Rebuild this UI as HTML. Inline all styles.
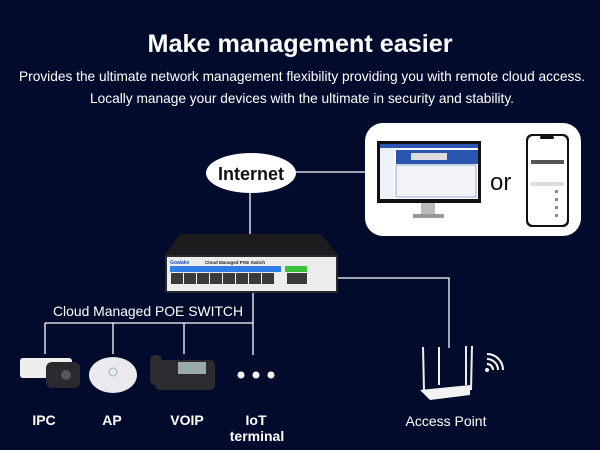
<!DOCTYPE html>
<html><head><meta charset="utf-8"><style>
html,body{margin:0;padding:0;background:#030b2c;}
svg{display:block;font-family:"Liberation Sans",sans-serif;}
</style></head><body>
<svg width="600" height="450" viewBox="0 0 600 450" xmlns="http://www.w3.org/2000/svg">
<rect width="600" height="450" fill="#030b2c"/>
<text x="300" y="52" text-anchor="middle" fill="#fff" font-size="25" font-weight="bold" textLength="305" lengthAdjust="spacingAndGlyphs">Make management easier</text>
<text x="302" y="81" text-anchor="middle" fill="#fff" font-size="14" textLength="566" lengthAdjust="spacingAndGlyphs">Provides the ultimate network management flexibility providing you with remote cloud access.</text>
<text x="302" y="103" text-anchor="middle" fill="#fff" font-size="14" textLength="424" lengthAdjust="spacingAndGlyphs">Locally manage your devices with the ultimate in security and stability.</text>

<g stroke="#fff" stroke-width="1.3" fill="none">
<line x1="295" y1="172" x2="366" y2="172"/>
<line x1="250" y1="193" x2="250" y2="250"/>
<polyline points="338,278 449,278 449,348"/>
<line x1="253" y1="293" x2="253" y2="355"/>
<line x1="45" y1="323" x2="253" y2="323"/>
<line x1="45" y1="323" x2="45" y2="354"/>
<line x1="113" y1="323" x2="113" y2="354"/>
<line x1="184" y1="323" x2="184" y2="354"/>
</g>

<ellipse cx="251" cy="173" rx="45" ry="20" fill="#fff"/>
<text x="251" y="180" text-anchor="middle" font-size="18" font-weight="bold" fill="#111">Internet</text>

<rect x="365" y="123" width="216" height="113" rx="18" fill="#fff"/>
<rect x="377" y="141" width="104" height="62" fill="#111"/>
<rect x="380" y="144" width="98" height="55" fill="#fff"/>
<rect x="380" y="144" width="98" height="4" fill="#2a56b0"/>
<rect x="396" y="150" width="82" height="14" fill="#2a56b0"/>
<rect x="411" y="153" width="36" height="7" fill="#ddd"/>
<rect x="396" y="165" width="80" height="32" fill="#f2f4fa" stroke="#5578c6" stroke-width="0.6"/>
<rect x="380" y="148" width="14" height="51" fill="#eef1f8"/>
<rect x="421" y="203" width="14" height="12" fill="#bbb"/>
<rect x="413" y="214" width="31" height="4" fill="#999"/>
<rect x="526" y="134" width="43" height="93" rx="6" fill="#111"/>
<rect x="528" y="136" width="39" height="89" rx="5" fill="#fff"/>
<rect x="540" y="136" width="14" height="3" rx="1.5" fill="#111"/>
<rect x="531" y="160" width="33" height="4" fill="#555"/>
<rect x="531" y="182" width="33" height="4" fill="#ddd"/>
<g fill="#888"><rect x="555" y="190" width="3" height="3"/><rect x="555" y="198" width="3" height="3"/><rect x="555" y="206" width="3" height="3"/><rect x="555" y="214" width="3" height="3"/></g>
<text x="490" y="190" font-size="24" fill="#111">or</text>

<!-- switch -->
<polygon points="180,234 321,234 338,255 165,255" fill="#1c1c1f"/>
<rect x="165" y="255" width="173" height="38" fill="#2a2a2e"/>
<rect x="167" y="257" width="169" height="34" fill="#ececec"/>
<text x="170" y="264" font-size="5" font-weight="bold" fill="#1f53b8">Goalake</text>
<text x="205" y="264" font-size="4.5" font-weight="bold" fill="#222">Cloud Managed POE Switch</text>
<rect x="170" y="266" width="111" height="6" fill="#2f7de6"/>
<rect x="285" y="266" width="22" height="6" fill="#38c43a"/>
<g fill="#3a3a3a">
<rect x="171" y="273" width="12" height="11"/><rect x="184" y="273" width="12" height="11"/><rect x="197" y="273" width="12" height="11"/><rect x="210" y="273" width="12" height="11"/><rect x="223" y="273" width="12" height="11"/><rect x="236" y="273" width="12" height="11"/><rect x="249" y="273" width="12" height="11"/><rect x="262" y="273" width="12" height="11"/>
<rect x="287" y="273" width="10" height="11"/><rect x="297" y="273" width="10" height="11"/>
</g>

<text x="148" y="316" text-anchor="middle" font-size="14" fill="#fff" textLength="190" lengthAdjust="spacingAndGlyphs">Cloud Managed POE SWITCH</text>

<!-- devices -->
<rect x="20" y="358" width="52" height="20" rx="3" fill="#eee"/>
<rect x="46" y="362" width="34" height="26" rx="6" fill="#2a2a2e"/>
<circle cx="66" cy="375" r="5" fill="#556"/>
<ellipse cx="113" cy="375" rx="24" ry="18" fill="#e9e9ee"/>
<circle cx="113" cy="372" r="4" fill="none" stroke="#8ab" stroke-width="0.8"/>
<rect x="155" y="360" width="60" height="30" rx="5" fill="#2b2b30"/>
<rect x="178" y="362" width="28" height="12" fill="#9aa"/>
<rect x="150" y="355" width="12" height="30" rx="5" fill="#2b2b30"/>
<g fill="#fff"><circle cx="241" cy="375" r="3.5"/><circle cx="256" cy="375" r="3.5"/><circle cx="271" cy="375" r="3.5"/></g>
<g stroke="#eee" stroke-width="2"><line x1="423" y1="347" x2="424" y2="390"/><line x1="439" y1="347" x2="439" y2="385"/><line x1="466" y1="346" x2="466" y2="385"/><line x1="472" y1="346" x2="471" y2="390"/></g>
<polygon points="420,390 470,385 470,395 430,400" fill="#f2f2f2"/>
<g fill="none" stroke="#fff" stroke-width="2"><path d="M487,364 a6,6 0 0 1 6,6"/><path d="M487,359 a11,11 0 0 1 11,11"/><path d="M487,354 a16,16 0 0 1 16,16"/></g>
<circle cx="487" cy="370" r="2" fill="#fff"/>

<g font-size="14" fill="#fff" font-weight="bold" text-anchor="middle">
<text x="44" y="425">IPC</text>
<text x="112" y="425">AP</text>
<text x="187" y="425">VOIP</text>
<text x="256" y="425">IoT</text>
<text x="257" y="441">terminal</text>
</g>
<text x="446" y="426" text-anchor="middle" font-size="14" fill="#fff">Access Point</text>
</svg>
</body></html>
